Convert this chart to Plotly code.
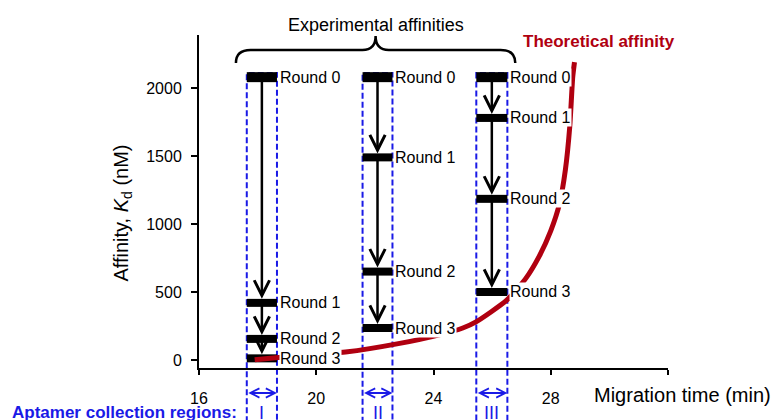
import plotly.graph_objects as go

# ---------------- data ----------------
region_names = ["I", "II", "III"]
region_start = [17.63, 21.58, 25.46]   # migration time (min)
region_end = [18.66, 22.60, 26.52]
round_labels = ["Round 0", "Round 1", "Round 2", "Round 3"]
kd_region_I = [2080, 420, 155, 12]       # nM
kd_region_II = [2080, 1490, 650, 235]
kd_region_III = [2080, 1780, 1185, 500]
theory_time = [17.9, 18.8, 21.0, 22.8, 24.2, 25.0, 25.45, 26.5, 27.15, 27.6,
               28.0, 28.3, 28.5, 28.65, 28.75, 28.81]
theory_kd = [2, 20, 58, 120, 185, 235, 280, 440, 600, 760,
             950, 1150, 1400, 1720, 2080, 2190]
x_tick_vals = [16, 20, 24, 28, 32]
x_tick_text = ["16", "20", "24", "28", ""]
y_tick_vals = [0, 500, 1000, 1500, 2000]
x_range = [16, 32]
y_range = [-59, 2390]

kd_regions = [kd_region_I, kd_region_II, kd_region_III]

# ---------------- styles ----------------
FONT = "Liberation Sans, Arial, sans-serif"
BLUE = "#1a1ae6"
RED = "#b00010"


def ypaper(v):
    return (v - y_range[0]) / (y_range[1] - y_range[0])


fig = go.Figure()
shapes = []
annotations = []

for name, x0, x1, kds in zip(region_names, region_start, region_end, kd_regions):
    cx = (x0 + x1) / 2
    # dashed collection-region box
    shapes.append(dict(type="rect", xref="x", yref="paper", x0=x0, x1=x1,
                       y0=-0.2, y1=ypaper(kds[0] + 30), layer="below",
                       line=dict(color=BLUE, width=2, dash="6px,3px")))
    # horizontal bars per round
    for i, (lab, v) in enumerate(zip(round_labels, kds)):
        fig.add_trace(go.Scatter(x=[x0, x1], y=[v, v], mode="lines",
                                 line=dict(color="black", width=10 if i == 0 else 8),
                                 hoverinfo="skip", showlegend=False))
        annotations.append(dict(x=x1, y=v, xref="x", yref="y", text=lab,
                                showarrow=False, xanchor="left", yanchor="middle",
                                xshift=2, bgcolor="white", borderpad=0,
                                font=dict(family=FONT, size=16, color="black")))
    # arrows between rounds
    for i in range(1, len(kds)):
        annotations.append(dict(x=cx, y=kds[i], ax=cx, ay=kds[i - 1],
                                xref="x", yref="y", axref="x", ayref="y",
                                text="", showarrow=True, arrowhead=5,
                                arrowsize=1.2, arrowwidth=2.5, arrowcolor="black",
                                standoff=4, startstandoff=0))
    # blue double-headed arrows under the axis
    annotations.append(dict(x=x1, y=-0.075, ax=x0, ay=0, xref="x", yref="paper",
                            axref="x", ayref="pixel", text="", showarrow=True,
                            arrowhead=5, startarrowhead=5, arrowside="end+start",
                            arrowsize=0.9, startarrowsize=0.9, arrowwidth=2,
                            arrowcolor=BLUE, standoff=0, startstandoff=0))
    annotations.append(dict(x=cx, y=-0.135, xref="x", yref="paper", text=name,
                            showarrow=False, xanchor="center", yanchor="middle",
                            font=dict(family=FONT, size=18, color=BLUE)))

# theoretical affinity curve
fig.add_trace(go.Scatter(x=theory_time, y=theory_kd, mode="lines",
                         line=dict(color=RED, width=5, shape="spline", smoothing=0.6),
                         hoverinfo="skip", showlegend=False))

# brace over experimental affinities
xl = region_start[0] - 0.37
xr = region_end[-1] + 0.27
xm = (xl + xr) / 2
yE, yH, yT = 0.916, 0.955, 0.997
r, rm = 0.5, 0.45
brace = (f"M{xl},{yE} Q{xl},{yH} {xl + r},{yH} L{xm - rm},{yH} "
         f"Q{xm},{yH} {xm},{yT} Q{xm},{yH} {xm + rm},{yH} "
         f"L{xr - r},{yH} Q{xr},{yH} {xr},{yE}")
shapes.append(dict(type="path", xref="x", yref="paper", path=brace,
                   line=dict(color="black", width=2.5)))

annotations += [
    dict(x=xm, y=1.03, xref="x", yref="paper", text="Experimental affinities",
         showarrow=False, xanchor="center", yanchor="middle",
         font=dict(family=FONT, size=18, color="black")),
    dict(x=29.65, y=0.979, xref="x", yref="paper", text="<b>Theoretical affinity</b>",
         showarrow=False, xanchor="center", yanchor="middle",
         font=dict(family=FONT, size=17, color=RED)),
    dict(x=0.838, y=-0.081, xref="paper", yref="paper", text="Migration time (min)",
         showarrow=False, xanchor="left", yanchor="middle",
         font=dict(family=FONT, size=20, color="black")),
    dict(x=-0.403, y=-0.135, xref="paper", yref="paper",
         text="<b>Aptamer collection regions:</b>",
         showarrow=False, xanchor="left", yanchor="middle",
         font=dict(family=FONT, size=17, color=BLUE)),
    dict(x=-0.164, y=0.464, xref="paper", yref="paper",
         text="Affinity, <i>K</i><sub>d</sub> (nM)", textangle=-90,
         showarrow=False, xanchor="center", yanchor="middle",
         font=dict(family=FONT, size=20, color="black")),
]

# page body has an 8px margin, so the figure is shrunk and margins offset
fig.update_layout(
    width=772, height=412,
    margin=dict(l=191, r=112, t=27, b=52),
    plot_bgcolor="white", paper_bgcolor="white",
    shapes=shapes, annotations=annotations,
    showlegend=False,
    xaxis=dict(range=x_range, tickvals=x_tick_vals, ticktext=x_tick_text,
               showgrid=False, zeroline=False, showline=True, linecolor="black",
               linewidth=2, ticks="outside", ticklen=5, tickwidth=2,
               tickcolor="black", ticklabelstandoff=10,
               tickfont=dict(family=FONT, size=16, color="black")),
    yaxis=dict(range=y_range, tickvals=y_tick_vals, showgrid=False,
               zeroline=False, showline=True, linecolor="black", linewidth=2,
               ticks="outside", ticklen=6, tickwidth=2, tickcolor="black",
               ticklabelstandoff=6,
               tickfont=dict(family=FONT, size=16, color="black")),
)

fig.write_html("out.html")
